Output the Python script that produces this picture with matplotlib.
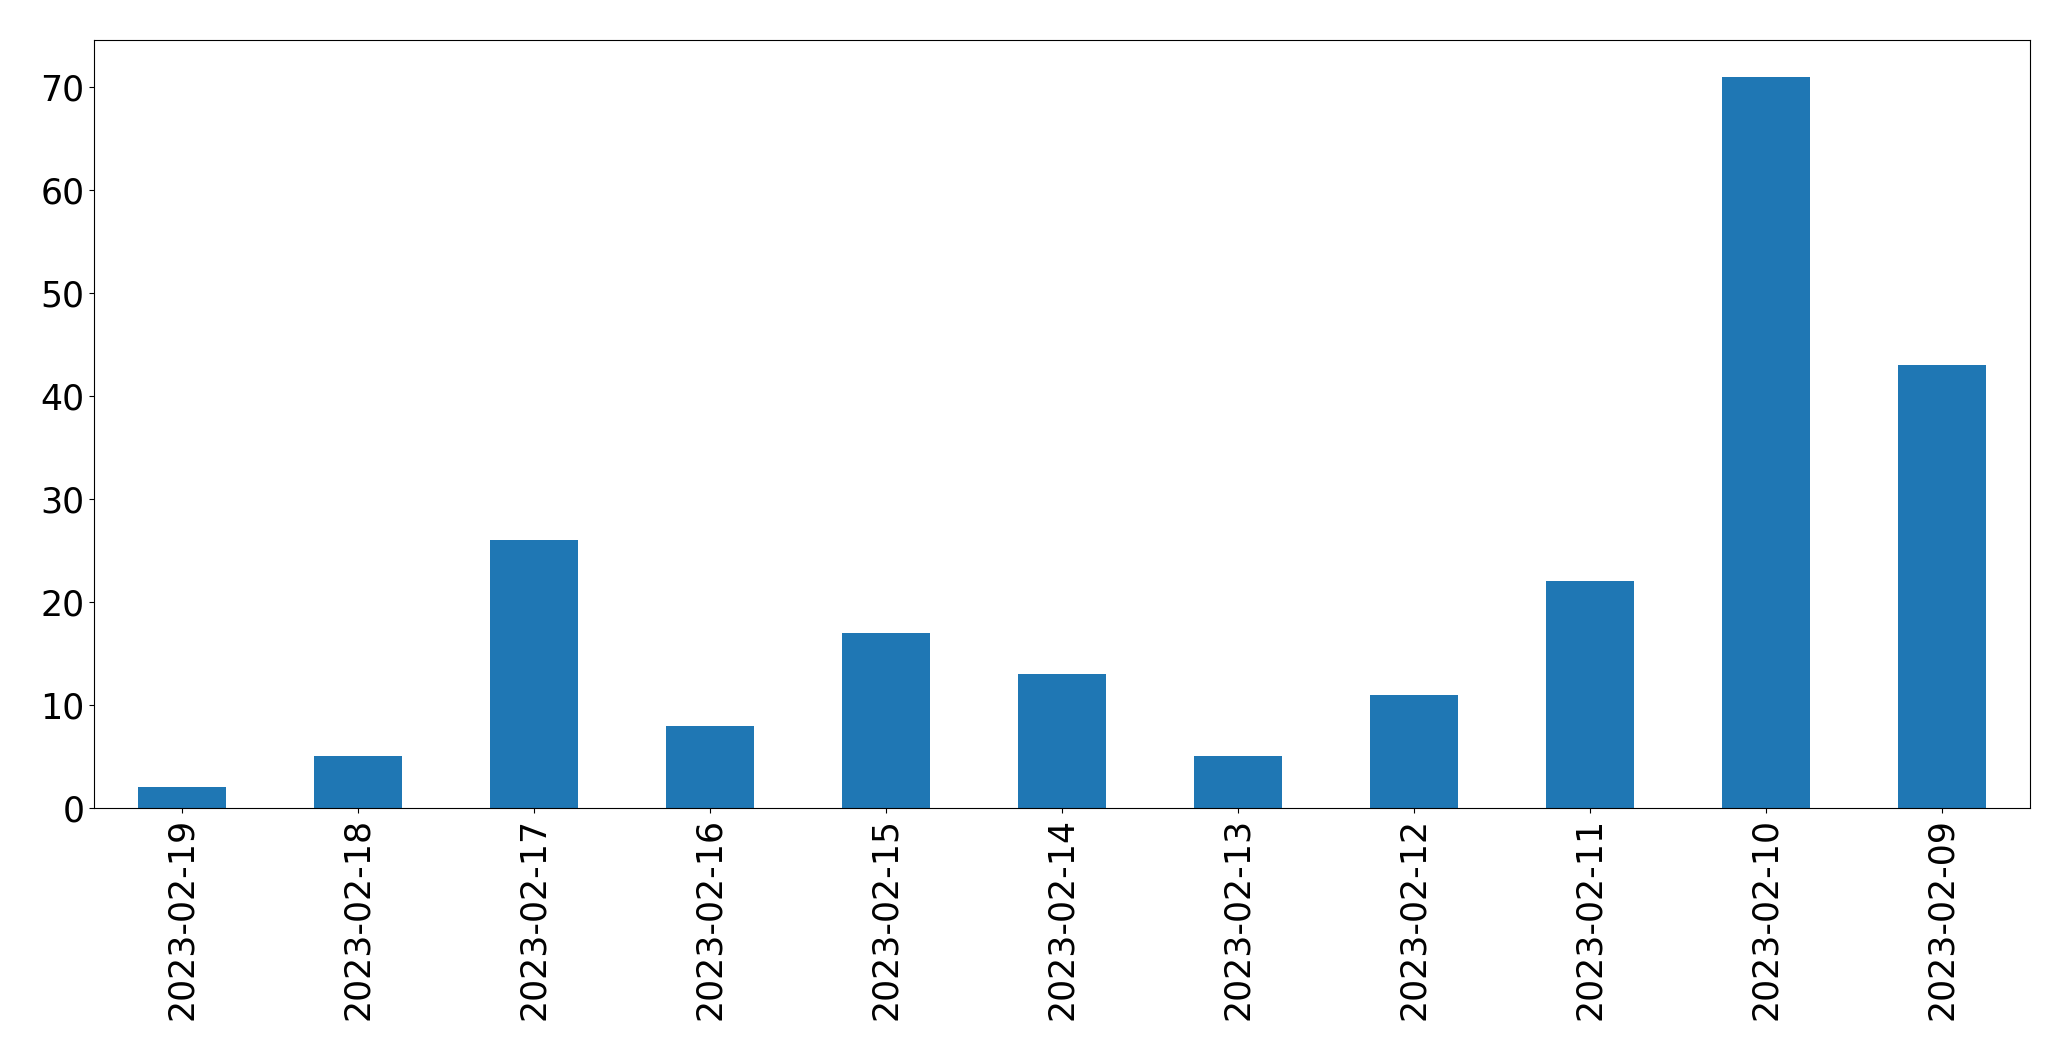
import matplotlib
matplotlib.use("Agg")
import matplotlib.pyplot as plt
import numpy as np

# ── Data ──
dates = ["2023-02-19", "2023-02-18", "2023-02-17", "2023-02-16", "2023-02-15",
         "2023-02-14", "2023-02-13", "2023-02-12", "2023-02-11", "2023-02-10",
         "2023-02-09"]
counts = [2, 5, 26, 8, 17, 13, 5, 11, 22, 71, 43]

fig, ax = plt.subplots(figsize=(20.71, 10.61), dpi=100)
fig.subplots_adjust(left=0.0454, right=0.9802, top=0.9623, bottom=0.2385)

x = np.arange(len(dates))
ax.bar(x, counts, width=0.5, color="#1f77b4")
ax.set_xlim(-0.5, len(dates) - 0.5)
ax.set_ylim(0, max(counts) * 1.05)
ax.set_xticks(x, dates, rotation=90)
ax.tick_params(axis="both", labelsize=25)

plt.savefig("out.png", dpi=100)
plt.close()
